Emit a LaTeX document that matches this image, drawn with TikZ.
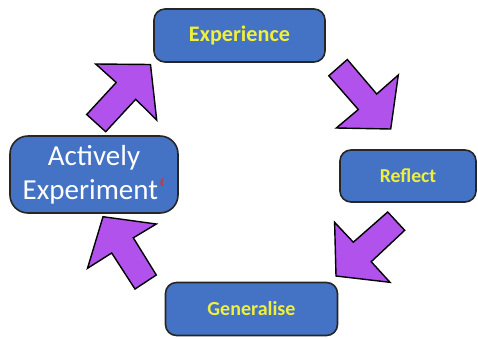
\documentclass[tikz,border=0pt]{standalone}
\usepackage{fontspec}
\setmainfont{Carlito}
\definecolor{boxblue}{HTML}{4472C4}
\definecolor{arrowpurple}{HTML}{B152EC}
\definecolor{labelyellow}{HTML}{F0F03C}
\definecolor{markred}{HTML}{D83030}
\begin{document}
\begin{tikzpicture}[x=1pt,y=-1pt,
  stage/.style={draw=black!85, line width=1.6pt, fill=boxblue, rounded corners=11pt,
    align=center, inner sep=0pt},
  stagelabel/.style={stage, text=labelyellow},
  blockarrow/.style={draw=black, line width=1.4pt, fill=arrowpurple, line join=miter}]
\useasboundingbox (0,0) rectangle (478,338);

% the four stages of the cycle
\node[stagelabel, minimum width=171pt, minimum height=53pt,
  font=\fontsize{22.2}{26}\selectfont\bfseries] (exp) at (239.5,35.5) {Experience};
\node[stagelabel, minimum width=136pt, minimum height=52pt,
  font=\fontsize{19.7}{24}\selectfont\bfseries] (ref) at (408,176) {Reflect};
\node[stagelabel, minimum width=172pt, minimum height=53pt,
  font=\fontsize{20}{24}\selectfont\bfseries] (gen) at (251.5,309) {Generalise};
\node[stage, rounded corners=18pt, minimum width=168pt, minimum height=77pt,
  text=white, font=\fontsize{29}{34.3}\selectfont] (act) at (94,174.5)
  {Actively\\Experiment{\color{markred}\char"60}};

% block arrows leading round the cycle
\draw[blockarrow] (95.7,64) -- (150.5,64.5) -- (156.7,120) -- (135.7,99.3)
  -- (105.7,131.7) -- (86.7,114.5) -- (116.2,82.5) -- cycle;
\draw[blockarrow] (347.3,59.5) -- (328.8,75.8) -- (358.3,109.5) -- (336.3,128)
  -- (390.7,129) -- (398.3,75) -- (376.7,94) -- cycle;
\draw[blockarrow] (387.7,212) -- (404.7,230.3) -- (371.2,261.7) -- (390,282.3)
  -- (336,276) -- (334.6,222.3) -- (353.3,242.2) -- cycle;
\draw[blockarrow] (103,216.7) -- (156.3,224) -- (133.3,237.8) -- (156.3,275)
  -- (135,289) -- (111.7,253) -- (87.5,268.3) -- cycle;
\end{tikzpicture}
\end{document}
